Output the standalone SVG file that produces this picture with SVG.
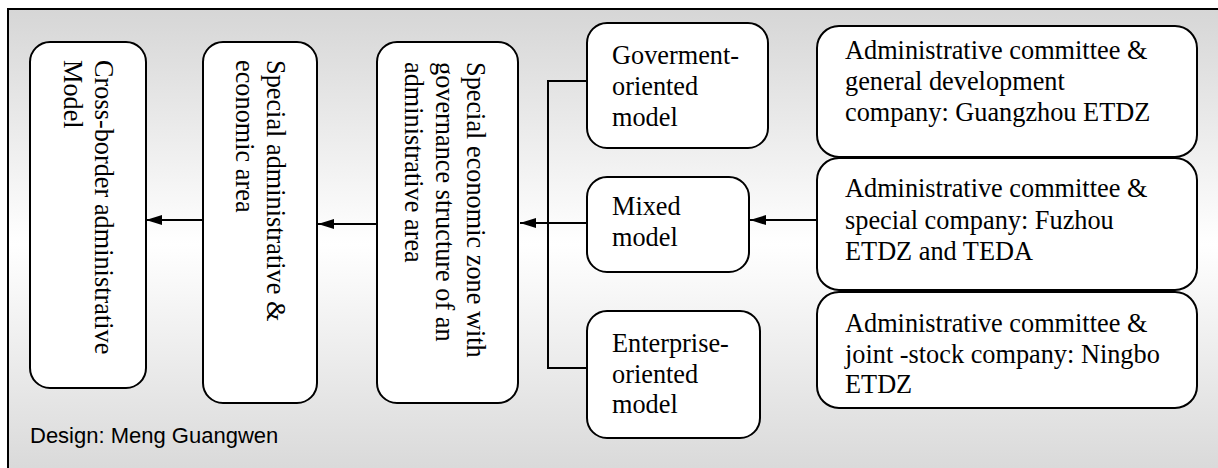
<svg xmlns="http://www.w3.org/2000/svg" width="1218" height="468" viewBox="0 0 1218 468">
  <defs>
    <linearGradient id="bg" x1="0" y1="0" x2="0" y2="1">
      <stop offset="0" stop-color="#d6d6d6"/>
      <stop offset="0.5" stop-color="#ffffff"/>
      <stop offset="1" stop-color="#d8d8d8"/>
    </linearGradient>
    <marker id="arrow" viewBox="0 0 16 10" refX="16" refY="5" markerWidth="16" markerHeight="10" markerUnits="userSpaceOnUse" orient="auto">
      <path d="M0,0 L16,5 L0,10 Z" fill="#000"/>
    </marker>
    <style>
      .box { fill: #ffffff; stroke: #000; stroke-width: 2; }
      .lbl { font-family: "Liberation Serif", "Times New Roman", serif; font-size: 26.3px; fill: #000; }
      .conn { fill: none; stroke: #000; stroke-width: 2; }
      .credit { font-family: "Liberation Sans", Arial, sans-serif; font-size: 22px; fill: #000; }
    </style>
  </defs>

  <!-- panel background -->
  <rect x="8" y="9" width="1220" height="470" fill="url(#bg)" stroke="#000" stroke-width="2"/>

  <!-- connectors -->
  <g id="connectors">
    <line class="conn" x1="203" y1="220" x2="146" y2="220" marker-end="url(#arrow)"/>
    <line class="conn" x1="377" y1="224" x2="318" y2="224" marker-end="url(#arrow)"/>
    <line class="conn" x1="587" y1="223" x2="520" y2="223" marker-end="url(#arrow)"/>
    <path class="conn" d="M587,81 H548 V368 H587"/>
    <line class="conn" x1="817" y1="220" x2="750" y2="220" marker-end="url(#arrow)"/>
  </g>

  <!-- vertical stage boxes -->
  <g id="cross-border">
    <rect class="box" x="30" y="42" width="116" height="346" rx="20"/>
    <text class="lbl" transform="translate(95,60) rotate(90)">
      <tspan x="0" y="0">Cross-border administrative</tspan>
      <tspan x="0" y="31">Model</tspan>
    </text>
  </g>

  <g id="special-admin-economic">
    <rect class="box" x="203" y="42" width="114" height="361" rx="20"/>
    <text class="lbl" transform="translate(267,60) rotate(90)">
      <tspan x="0" y="0">Special administrative &amp;</tspan>
      <tspan x="0" y="31">economic area</tspan>
    </text>
  </g>

  <g id="sez-governance">
    <rect class="box" x="377" y="42" width="141" height="361" rx="20"/>
    <text class="lbl" transform="translate(467,62) rotate(90)">
      <tspan x="0" y="0">Special economic zone with</tspan>
      <tspan x="0" y="31">governance structure of  an</tspan>
      <tspan x="0" y="62">administrative area</tspan>
    </text>
  </g>

  <!-- model boxes -->
  <g id="government-oriented">
    <rect class="box" x="587" y="23" width="181" height="125" rx="20"/>
    <text class="lbl">
      <tspan x="612" y="64">Goverment-</tspan>
      <tspan x="612" y="95">oriented</tspan>
      <tspan x="612" y="126">model</tspan>
    </text>
  </g>

  <g id="mixed">
    <rect class="box" x="587" y="177" width="162" height="95" rx="20"/>
    <text class="lbl">
      <tspan x="612" y="215">Mixed</tspan>
      <tspan x="612" y="246">model</tspan>
    </text>
  </g>

  <g id="enterprise-oriented">
    <rect class="box" x="587" y="311" width="173" height="127" rx="20"/>
    <text class="lbl">
      <tspan x="612" y="352">Enterprise-</tspan>
      <tspan x="612" y="383">oriented</tspan>
      <tspan x="612" y="413">model</tspan>
    </text>
  </g>

  <!-- example boxes -->
  <g id="guangzhou">
    <rect class="box" x="817" y="26" width="380" height="131" rx="22"/>
    <text class="lbl">
      <tspan x="845" y="59">Administrative committee &amp;</tspan>
      <tspan x="845" y="90">general development</tspan>
      <tspan x="845" y="121">company: Guangzhou ETDZ</tspan>
    </text>
  </g>

  <g id="fuzhou-teda">
    <rect class="box" x="817" y="158" width="380" height="132" rx="22"/>
    <text class="lbl">
      <tspan x="845" y="197">Administrative committee &amp;</tspan>
      <tspan x="845" y="229">special company: Fuzhou</tspan>
      <tspan x="845" y="260">ETDZ and TEDA</tspan>
    </text>
  </g>

  <g id="ningbo">
    <rect class="box" x="817" y="292" width="380" height="116" rx="22"/>
    <text class="lbl">
      <tspan x="845" y="332">Administrative committee &amp;</tspan>
      <tspan x="845" y="363">joint -stock company: Ningbo</tspan>
      <tspan x="845" y="393">ETDZ</tspan>
    </text>
  </g>

  <text class="credit" x="30" y="443">Design: Meng Guangwen</text>
</svg>
